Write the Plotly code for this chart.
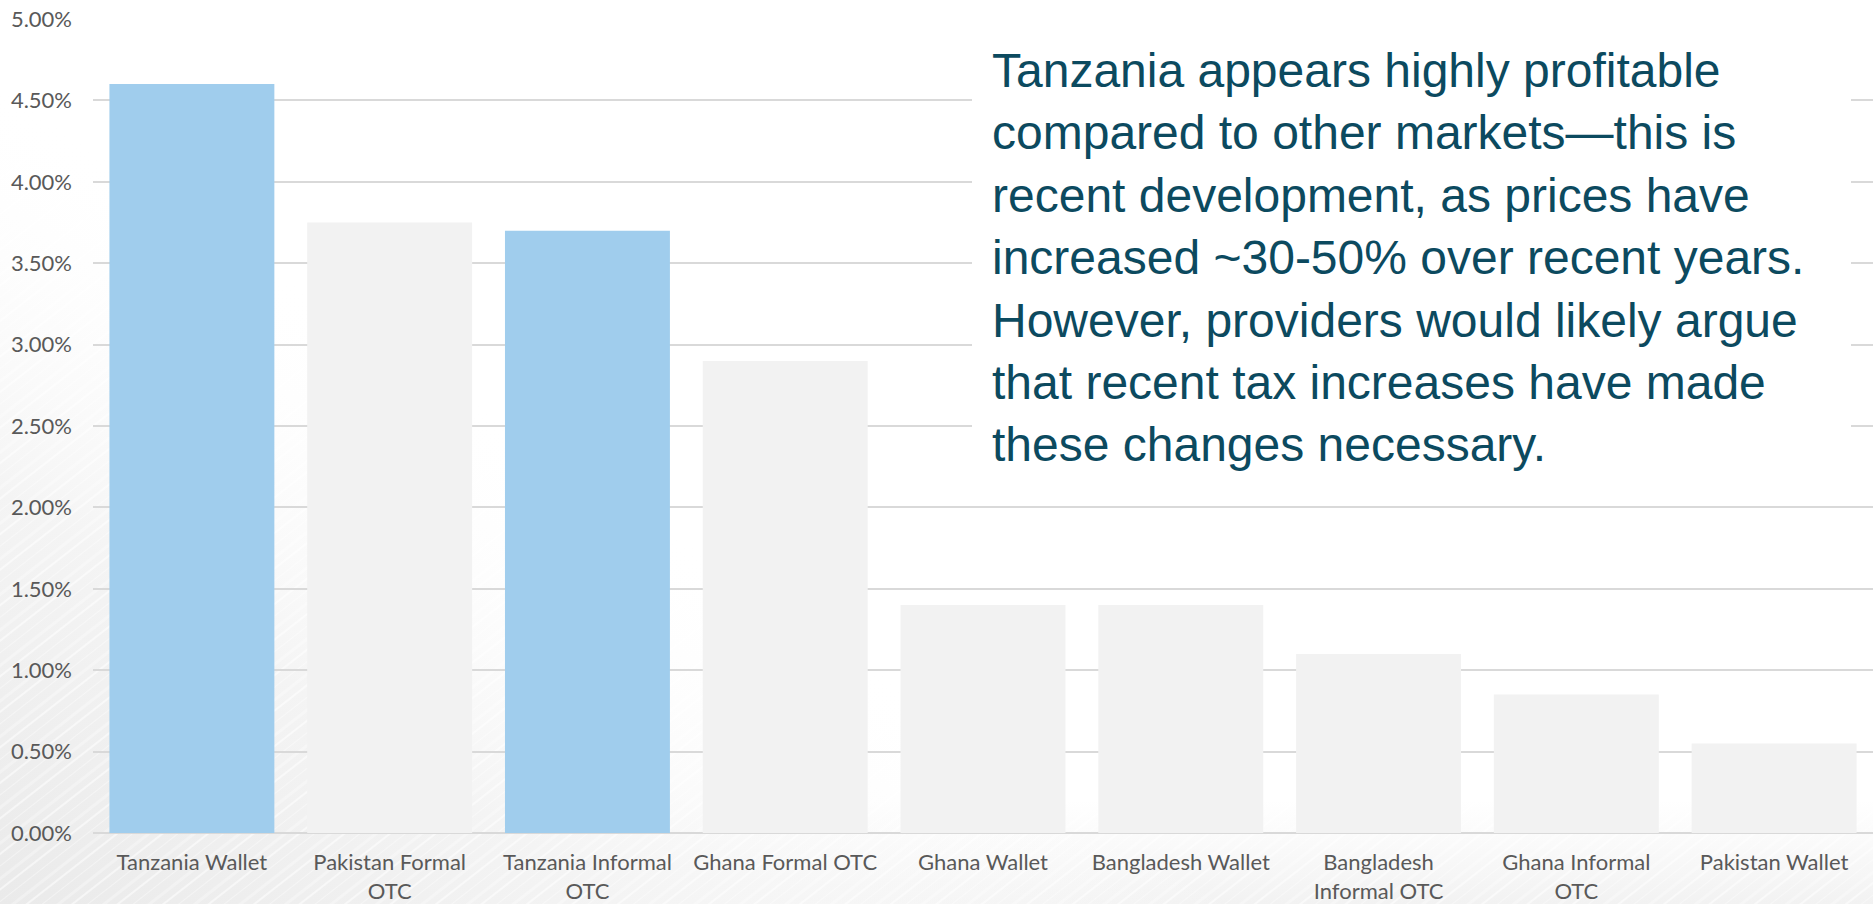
import base64
import plotly.graph_objects as go

# Fee as a share of transfer value, by market and channel
categories = [
    "Tanzania Wallet",
    "Pakistan Formal<br>OTC",
    "Tanzania Informal<br>OTC",
    "Ghana Formal OTC",
    "Ghana Wallet",
    "Bangladesh Wallet",
    "Bangladesh<br>Informal OTC",
    "Ghana Informal<br>OTC",
    "Pakistan Wallet",
]
fee_pct = [4.60, 3.75, 3.70, 2.90, 1.40, 1.40, 1.10, 0.85, 0.55]
highlight = [True, False, True, False, False, False, False, False, False]

tick_vals = [0, 0.5, 1.0, 1.5, 2.0, 2.5, 3.0, 3.5, 4.0, 4.5, 5.0]
tick_text = [f"{v:.2f}%" for v in tick_vals]

note_lines = [
    "Tanzania appears highly profitable",
    "compared to other markets\u2014this is",
    "recent development, as prices have",
    "increased ~30-50% over recent years.",
    "However, providers would likely argue",
    "that recent tax increases have made",
    "these changes necessary.",
]

W, H = 1873, 904
ML, MR, MT, MB = 93, 0, 19, 71
PW, PH = W - ML - MR, H - MT - MB

BLUE = "#A0CDED"
GREY = "#F2F2F2"
TEAL = "#0C4A5F"
TICK = "#595959"

# Soft slide backdrop: grey wash in the lower left with faint diagonal streaks
svg = f"""<svg xmlns='http://www.w3.org/2000/svg' width='{W}' height='{H}' viewBox='0 0 {W} {H}'>
<defs>
<linearGradient id='g' gradientUnits='userSpaceOnUse' x1='0' y1='{H}' x2='380' y2='330'>
<stop offset='0' stop-color='#EAEAEA'/>
<stop offset='0.5' stop-color='#F4F4F4'/>
<stop offset='1' stop-color='#FFFFFF' stop-opacity='0'/>
</linearGradient>
<linearGradient id='b' gradientUnits='userSpaceOnUse' x1='0' y1='800' x2='0' y2='{H}'>
<stop offset='0' stop-color='#F4F4F4' stop-opacity='0'/>
<stop offset='1' stop-color='#F2F2F2' stop-opacity='1'/>
</linearGradient>
<pattern id='p' width='28' height='28' patternUnits='userSpaceOnUse' patternTransform='rotate(52)'>
<rect x='0' y='0' width='2' height='28' fill='#FFFFFF' fill-opacity='0.55'/>
<rect x='10' y='0' width='1' height='28' fill='#FFFFFF' fill-opacity='0.4'/>
<rect x='19' y='0' width='3' height='28' fill='#FFFFFF' fill-opacity='0.3'/>
</pattern>
</defs>
<rect width='{W}' height='{H}' fill='#FFFFFF'/>
<rect width='{W}' height='{H}' fill='url(#b)'/>
<rect width='{W}' height='{H}' fill='url(#g)'/>
<rect width='{W}' height='{H}' fill='url(#p)'/>
</svg>"""
bg_src = "data:image/svg+xml;base64," + base64.b64encode(svg.encode()).decode()

fig = go.Figure()
fig.add_trace(go.Bar(
    x=categories,
    y=fee_pct,
    marker=dict(color=[BLUE if h else GREY for h in highlight], line=dict(width=0)),
    hoverinfo="skip",
))

# White panel behind the commentary, hiding the gridlines there
px = lambda x: (x - ML) / PW
py = lambda y: 1 - (y - MT) / PH
fig.add_shape(type="rect", xref="paper", yref="paper",
              x0=px(972), x1=px(1851), y0=py(488), y1=py(32),
              fillcolor="#FFFFFF", line=dict(width=0), layer="above")

fig.add_annotation(
    xref="paper", yref="paper", x=px(990), y=py(42),
    xanchor="left", yanchor="top", align="left", showarrow=False,
    text="<br>".join(note_lines),
    font=dict(family="Liberation Sans, Arial, sans-serif", size=48, color=TEAL),
)

fig.add_layout_image(dict(
    source=bg_src, xref="paper", yref="paper",
    x=-ML / PW, y=1 + MT / PH, sizex=W / PW, sizey=H / PH,
    xanchor="left", yanchor="top", sizing="stretch", layer="below",
))

fig.update_layout(
    width=W, height=H,
    margin=dict(l=ML, r=MR, t=MT, b=MB, pad=0),
    paper_bgcolor="#FFFFFF",
    plot_bgcolor="rgba(0,0,0,0)",
    bargap=0.166,
    showlegend=False,
    font=dict(family="Lato, Carlito, Calibri, sans-serif", size=22, color=TICK),
)
fig.update_xaxes(
    showgrid=False, zeroline=False, showline=False, ticks="",
    tickfont=dict(size=22, color=TICK), ticklabelstandoff=14,
)
fig.update_yaxes(
    range=[0, 5], tickvals=tick_vals, ticktext=tick_text,
    showgrid=True, gridcolor="#D9D9D9", gridwidth=2,
    zeroline=True, zerolinecolor="#D9D9D9", zerolinewidth=2,
    showline=False, ticks="", ticklabelstandoff=20,
    tickfont=dict(size=22, color=TICK),
)

fig.write_html("out.html")
